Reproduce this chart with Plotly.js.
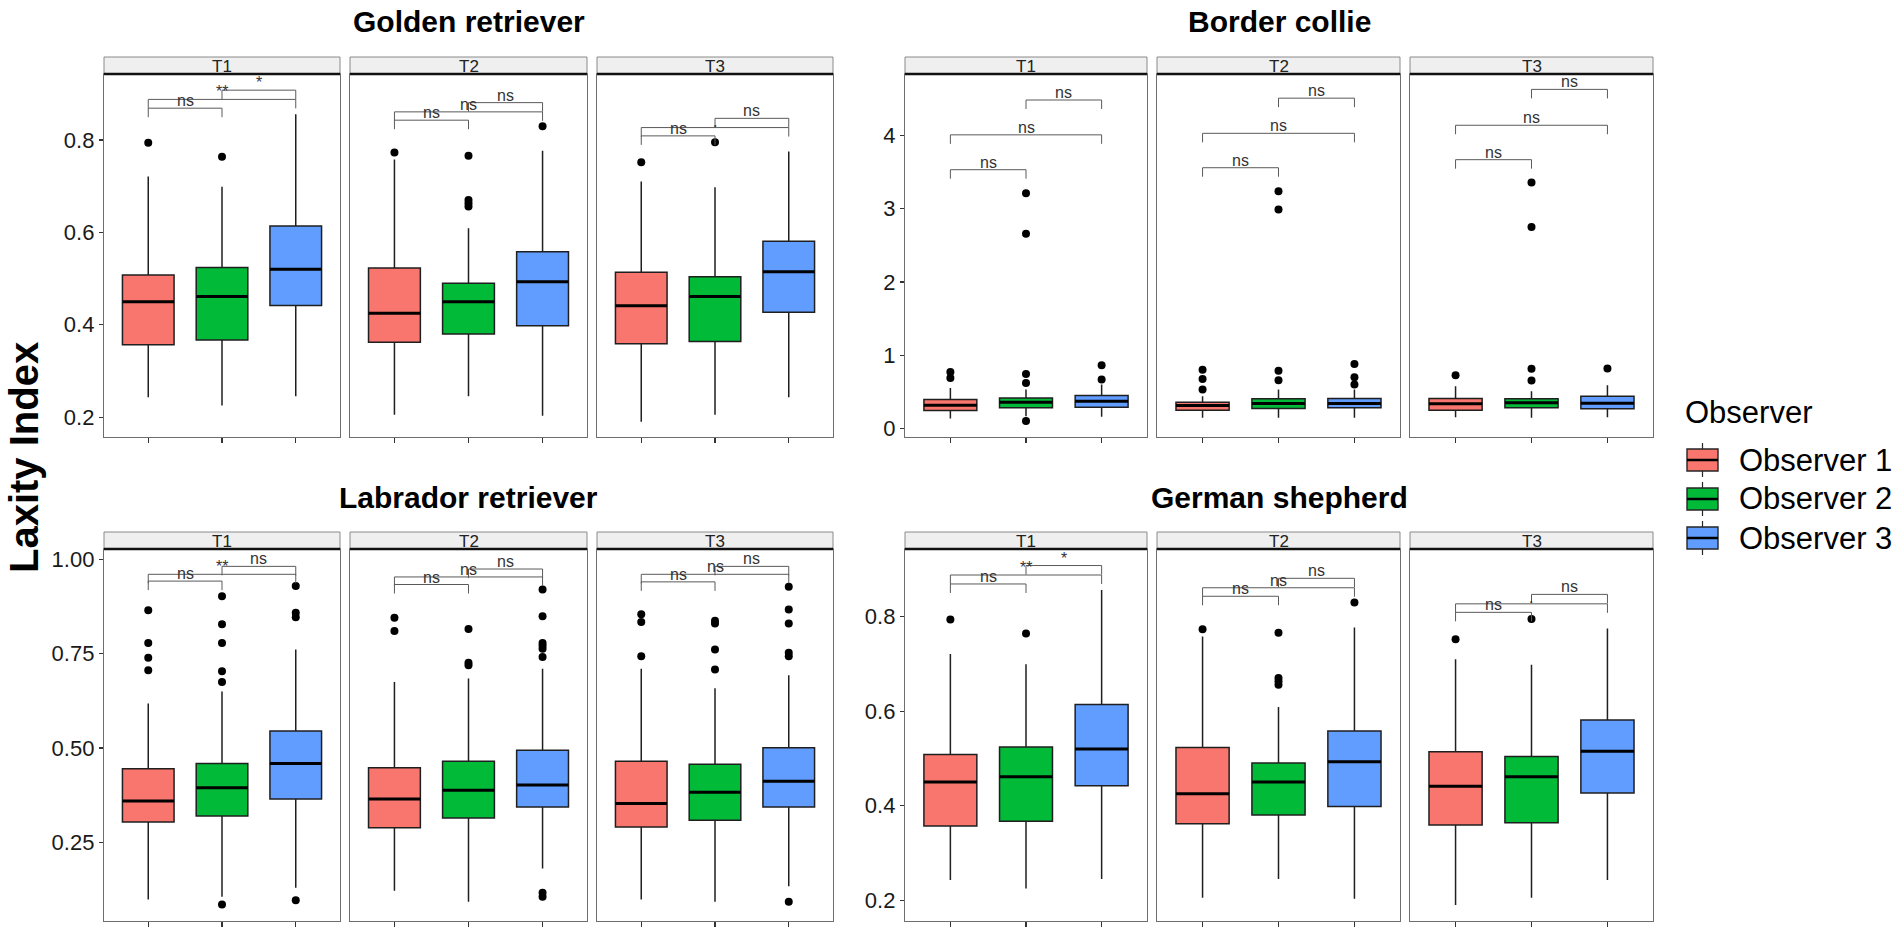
<!DOCTYPE html>
<html><head><meta charset="utf-8">
<script src="https://cdn.plot.ly/plotly-3.0.1.min.js"></script>
<style>body{margin:0;background:#fff}#chart{width:1902px;height:933px}</style>
</head><body><div id="chart"></div>
<script>
// ---------- DATA ----------
const observers = ['Observer 1', 'Observer 2', 'Observer 3'];
const timepoints = ['T1', 'T2', 'T3'];
const breeds = ['Golden retriever', 'Border collie', 'Labrador retriever', 'German shepherd'];
const yAxisTitle = 'Laxity Index';
const legendTitle = 'Observer';

// each array: [T1, T2, T3], each [Observer 1, Observer 2, Observer 3]
const goldenLow     = [[0.243,0.225,0.245],[0.205,0.245,0.203],[0.190,0.205,0.243]];
const goldenQ1      = [[0.357,0.367,0.442],[0.362,0.380,0.398],[0.359,0.364,0.427]];
const goldenMedian  = [[0.450,0.461,0.520],[0.425,0.450,0.493],[0.441,0.461,0.515]];
const goldenQ3      = [[0.508,0.524,0.614],[0.523,0.490,0.558],[0.514,0.504,0.581]];
const goldenHigh    = [[0.721,0.699,0.856],[0.758,0.609,0.777],[0.710,0.698,0.775]];
const goldenOutliers = [[[0.794],[0.764],[]],[[0.773],[0.766,0.670,0.663,0.656],[0.830]],[[0.752],[0.795],[]]];
const goldenBracketY = [[0.869,0.888,0.908],[0.843,0.861,0.881],[0.809,0.827,0.847]];
const goldenSignif   = [['ns','**','*'],['ns','ns','ns'],['ns','•','ns']];

const borderLow     = [[0.136,0.168,0.159],[0.145,0.145,0.145],[0.154,0.145,0.154]];
const borderQ1      = [[0.245,0.281,0.290],[0.249,0.272,0.281],[0.249,0.281,0.268]];
const borderMedian  = [[0.317,0.358,0.372],[0.313,0.340,0.340],[0.336,0.349,0.345]];
const borderQ3      = [[0.395,0.417,0.449],[0.358,0.404,0.408],[0.408,0.404,0.440]];
const borderHigh    = [[0.553,0.530,0.600],[0.440,0.530,0.530],[0.576,0.508,0.590]];
const borderOutliers = [[[0.771,0.689],[3.21,2.66,0.744,0.621,0.10],[0.862,0.667]],
                        [[0.803,0.676,0.531],[3.24,2.99,0.789,0.658],[0.88,0.70,0.60]],
                        [[0.726],[3.36,2.75,0.816,0.653],[0.82]]];
const borderBracketY = [[3.533,4.009,4.485],[3.56,4.03,4.51],[3.67,4.14,4.63]];
const borderSignif   = [['ns','ns','ns'],['ns','ns','ns'],['ns','ns','ns']];

const labradorLow    = [[0.099,0.106,0.130],[0.122,0.093,0.181],[0.099,0.093,0.134]];
const labradorQ1     = [[0.304,0.320,0.365],[0.289,0.315,0.344],[0.291,0.309,0.344]];
const labradorMedian = [[0.360,0.395,0.459],[0.365,0.388,0.402],[0.353,0.383,0.412]];
const labradorQ3     = [[0.445,0.459,0.545],[0.448,0.465,0.494],[0.465,0.457,0.501]];
const labradorHigh   = [[0.618,0.650,0.761],[0.675,0.684,0.710],[0.710,0.658,0.693]];
const labradorOutliers = [[[0.865,0.778,0.739,0.706],[0.902,0.828,0.778,0.703,0.675,0.086],[0.929,0.858,0.846,0.097]],
                          [[0.845,0.810],[0.815,0.726,0.719],[0.920,0.849,0.778,0.771,0.763,0.741,0.117,0.106]],
                          [[0.854,0.834,0.743],[0.837,0.830,0.761,0.708],[0.927,0.867,0.830,0.752,0.743,0.093]]];
const labradorBracketY = [[0.942,0.960,0.981],[0.933,0.953,0.974],[0.940,0.960,0.981]];
const labradorSignif   = [['ns','**','ns'],['ns','ns','ns'],['ns','ns','ns']];

const germanLow     = [[0.243,0.225,0.245],[0.205,0.245,0.203],[0.190,0.205,0.243]];
const germanQ1      = [[0.357,0.367,0.442],[0.362,0.380,0.398],[0.359,0.364,0.427]];
const germanMedian  = [[0.450,0.461,0.520],[0.425,0.450,0.493],[0.441,0.461,0.515]];
const germanQ3      = [[0.508,0.524,0.614],[0.523,0.490,0.558],[0.514,0.504,0.581]];
const germanHigh    = [[0.721,0.699,0.856],[0.758,0.609,0.777],[0.710,0.698,0.775]];
const germanOutliers = [[[0.794],[0.764],[]],[[0.773],[0.766,0.670,0.663,0.656],[0.830]],[[0.752],[0.795],[]]];
const germanBracketY = [[0.869,0.888,0.908],[0.843,0.861,0.881],[0.809,0.827,0.847]];
const germanSignif   = [['ns','**','*'],['ns','ns','ns'],['ns','•','ns']];

const goldenTicks = [0.2, 0.4, 0.6, 0.8];
const borderTicks = [0, 1, 2, 3, 4];
const labradorTicks = [0.25, 0.50, 0.75, 1.00];
const germanTicks = [0.2, 0.4, 0.6, 0.8];

// ---------- STYLE / LAYOUT ----------
const W = 1902, H = 933;
const FONT = 'Liberation Sans, Arial, Helvetica, sans-serif';
const colors = ['#F8766D', '#00BA38', '#619CFF'];
const colsLeft = [[104, 340], [350, 587], [597, 833]];
const colsRight = [[905, 1147], [1157, 1400], [1410, 1653]];
const rowTop = [74, 437], rowBottom = [549, 921];
const stripH = 17;

const panels = [
  {name: breeds[0], cols: colsLeft, row: rowTop, range: [0.157, 0.943], ticks: goldenTicks, fmt: '.1f',
   low: goldenLow, q1: goldenQ1, med: goldenMedian, q3: goldenQ3, high: goldenHigh, out: goldenOutliers, by: goldenBracketY, sig: goldenSignif},
  {name: breeds[1], cols: colsRight, row: rowTop, range: [-0.117, 4.84], ticks: borderTicks, fmt: 'd',
   low: borderLow, q1: borderQ1, med: borderMedian, q3: borderQ3, high: borderHigh, out: borderOutliers, by: borderBracketY, sig: borderSignif},
  {name: breeds[2], cols: colsLeft, row: rowBottom, range: [0.042, 1.027], ticks: labradorTicks, fmt: '.2f',
   low: labradorLow, q1: labradorQ1, med: labradorMedian, q3: labradorQ3, high: labradorHigh, out: labradorOutliers, by: labradorBracketY, sig: labradorSignif},
  {name: breeds[3], cols: colsRight, row: rowBottom, range: [0.156, 0.943], ticks: germanTicks, fmt: '.1f',
   low: germanLow, q1: germanQ1, med: germanMedian, q3: germanQ3, high: germanHigh, out: germanOutliers, by: germanBracketY, sig: germanSignif}
];

const comparisons = [[1, 2], [1, 3], [2, 3]];
const boxWidth = 0.7;

const traces = [];
const shapes = [];
const annotations = [];
const layout = {
  width: W, height: H, margin: {l: 0, r: 0, t: 0, b: 0},
  paper_bgcolor: '#ffffff', plot_bgcolor: '#ffffff',
  showlegend: false, font: {family: FONT, color: '#1a1a1a'}
};
const px = v => v / W;
const py = v => 1 - v / H;

panels.forEach((p, b) => {
  annotations.push({xref: 'paper', yref: 'paper', x: px((p.cols[0][0] + p.cols[2][1]) / 2), y: py(p.row[0] - stripH - 35),
    text: '<b>' + p.name + '</b>', showarrow: false, xanchor: 'center', yanchor: 'middle',
    font: {size: 30, family: FONT, color: '#000'}});
  timepoints.forEach((tp, t) => {
    const k = b * 3 + t + 1;
    const sfx = k === 1 ? '' : String(k);
    const xa = 'x' + sfx, ya = 'y' + sfx;
    const [x0, x1] = p.cols[t];
    layout['xaxis' + sfx] = {domain: [px(x0), px(x1)], anchor: ya, range: [0.4, 3.6],
      tickvals: [1, 2, 3], showticklabels: false, ticks: 'outside', ticklen: 5, tickwidth: 1.2, tickcolor: '#333',
      showline: true, mirror: true, linecolor: '#6e6e6e', linewidth: 1.2, showgrid: false, zeroline: false, fixedrange: true};
    layout['yaxis' + sfx] = {domain: [py(p.row[1]), py(p.row[0])], anchor: xa, range: p.range,
      tickvals: p.ticks, tickformat: p.fmt, showticklabels: t === 0, ticks: t === 0 ? 'outside' : '',
      ticklen: 4, tickwidth: 1.2, tickcolor: '#333', tickfont: {size: 22, family: FONT, color: '#1a1a1a'},
      showline: true, mirror: true, linecolor: '#6e6e6e', linewidth: 1.2, showgrid: false, zeroline: false, fixedrange: true};

    const medX = [], medY = [], outX = [], outY = [];
    observers.forEach((obs, o) => {
      traces.push({type: 'box', name: obs, x: [o + 1], q1: [p.q1[t][o]], median: [p.med[t][o]], q3: [p.q3[t][o]],
        lowerfence: [p.low[t][o]], upperfence: [p.high[t][o]], width: boxWidth, whiskerwidth: 0,
        fillcolor: colors[o], line: {color: '#1f1f1f', width: 1.5}, boxpoints: false,
        xaxis: xa, yaxis: ya, hoverinfo: 'y', showlegend: false});
      medX.push(o + 1 - boxWidth / 2, o + 1 + boxWidth / 2, null);
      medY.push(p.med[t][o], p.med[t][o], null);
      p.out[t][o].forEach(v => { outX.push(o + 1); outY.push(v); });
    });
    traces.push({type: 'scatter', mode: 'lines', x: medX, y: medY, xaxis: xa, yaxis: ya,
      line: {color: '#000', width: 3}, hoverinfo: 'skip', showlegend: false});
    traces.push({type: 'scatter', mode: 'markers', x: outX, y: outY, xaxis: xa, yaxis: ya,
      marker: {size: 8, color: '#000'}, hoverinfo: 'y', showlegend: false});

    const unitPx = (p.row[1] - p.row[0]) / (p.range[1] - p.range[0]);
    const tip = 9 / unitPx;
    comparisons.forEach((c, ci) => {
      const yv = p.by[t][ci];
      shapes.push({type: 'path', xref: xa, yref: ya,
        path: `M ${c[0]},${yv - tip} L ${c[0]},${yv} L ${c[1]},${yv} L ${c[1]},${yv - tip}`,
        line: {color: '#5a5a5a', width: 1}});
      const lab = p.sig[t][ci];
      annotations.push({xref: xa, yref: ya, x: (c[0] + c[1]) / 2, y: yv, text: lab, showarrow: false,
        xanchor: 'center', yanchor: 'bottom', yshift: -3,
        font: {size: lab === '•' ? 7 : 16, family: FONT, color: '#333'}});
    });

    const sTop = p.row[0] - stripH;
    shapes.push({type: 'rect', xref: 'paper', yref: 'paper', x0: px(x0), x1: px(x1), y0: py(p.row[0]), y1: py(sTop),
      fillcolor: '#EFEFEF', line: {color: '#8a8a8a', width: 1}, layer: 'above'});
    shapes.push({type: 'line', xref: 'paper', yref: 'paper', x0: px(x0), x1: px(x1), y0: py(p.row[0]), y1: py(p.row[0]),
      line: {color: '#111', width: 2.5}, layer: 'above'});
    annotations.push({xref: 'paper', yref: 'paper', x: px((x0 + x1) / 2), y: py(sTop + stripH / 2 + 1),
      text: tp, showarrow: false, xanchor: 'center', yanchor: 'middle', font: {size: 17, family: FONT, color: '#222'}});
  });
});

annotations.push({xref: 'paper', yref: 'paper', x: px(24), y: py(458), text: '<b>' + yAxisTitle + '</b>',
  textangle: -90, showarrow: false, xanchor: 'center', yanchor: 'middle', font: {size: 40, family: FONT, color: '#000'}});

annotations.push({xref: 'paper', yref: 'paper', x: px(1683), y: py(412), text: legendTitle, showarrow: false,
  xanchor: 'left', yanchor: 'middle', font: {size: 31, family: FONT, color: '#000'}});
const legendY = [460, 499, 538];
observers.forEach((obs, o) => {
  const c = legendY[o];
  const kx0 = 1687, kx1 = 1718, kxm = (kx0 + kx1) / 2;
  shapes.push({type: 'line', xref: 'paper', yref: 'paper', x0: px(kxm), x1: px(kxm), y0: py(c - 17), y1: py(c + 17),
    line: {color: '#262626', width: 1.2}});
  shapes.push({type: 'rect', xref: 'paper', yref: 'paper', x0: px(kx0), x1: px(kx1), y0: py(c + 11), y1: py(c - 11),
    fillcolor: colors[o], line: {color: '#262626', width: 1.4}});
  shapes.push({type: 'line', xref: 'paper', yref: 'paper', x0: px(kx0), x1: px(kx1), y0: py(c), y1: py(c),
    line: {color: '#000', width: 2.5}});
  annotations.push({xref: 'paper', yref: 'paper', x: px(1737), y: py(c), text: obs, showarrow: false,
    xanchor: 'left', yanchor: 'middle', font: {size: 31, family: FONT, color: '#000'}});
});

layout.shapes = shapes;
layout.annotations = annotations;
Plotly.newPlot('chart', traces, layout, {displayModeBar: false, staticPlot: true});
</script>
</body></html>
